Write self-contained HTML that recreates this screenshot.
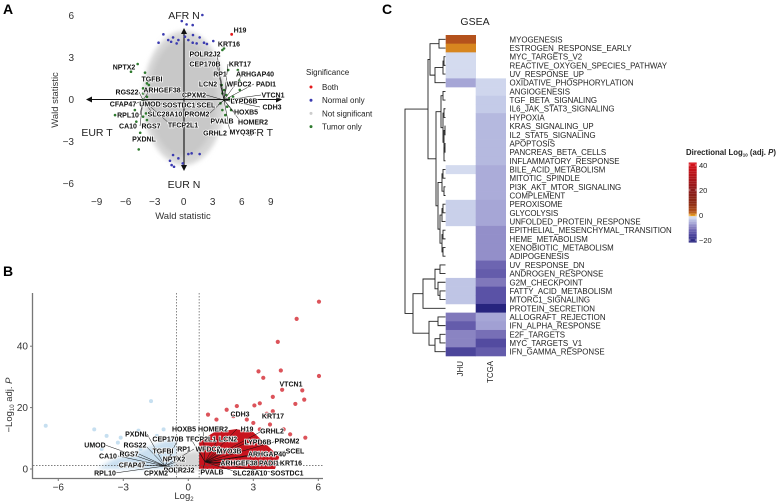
<!DOCTYPE html>
<html><head><meta charset="utf-8"><style>
html,body{margin:0;padding:0;background:#fff;}
svg{display:block;font-family:"Liberation Sans",sans-serif;}
</style></head><body>
<svg id="fig" width="781" height="501" viewBox="0 0 781 501" xmlns="http://www.w3.org/2000/svg">
<defs>
<filter id="blur1" x="-20%" y="-20%" width="140%" height="140%"><feGaussianBlur stdDeviation="2.5"/></filter>
<filter id="blur2" x="-20%" y="-20%" width="140%" height="140%"><feGaussianBlur stdDeviation="2"/></filter>
</defs>
<text x="3" y="14" font-size="14" font-weight="bold">A</text>
<text x="3" y="276" font-size="14" font-weight="bold">B</text>
<text x="382" y="14" font-size="14" font-weight="bold">C</text>
<g id="panelA"></g>
<g id="panelB"></g>
<g id="panelC"></g>
</svg>
<script>
// ---------- Panel A data ----------
const aTicks = [-9,-6,-3,0,3,6,9];
const aYTicks = [-6,-3,0,3,6];
const aNormalX = [1.93,-0.2,0.3,0.93,-2.1,-2.6,-1.3,-1.1,-0.55,0.13,0.96,1.65,2.1,3.06,0.93,1.34,2.4,0.48,-1.6,-0.73,-1.1,-1.42,-1.25,-1.0,0.48,0.82,1.65,-0.55,-0.1];
const aNormalY = [6.05,5.62,5.38,5.33,4.67,4.07,4.14,4.45,4.26,4.5,4.62,4.45,4.07,4.19,4.07,4.02,3.98,4.26,4.26,4.02,-3.95,-4.36,-4.67,-4.79,-3.88,-3.83,-3.88,-4.19,-4.55];
const aTumorX = [3.93,4.17,4.0,4.4,4.7,4.2,5.1,3.8,4.5,4.9,4.0,4.3,5.8,5.6,4.6,4.17,4.0,5.75,-4.76,-5.45,-4.0,-3.8,-4.2,-3.8,-4.2,-4.5,-5.05,-3.9,-4.2,-3.8,-4.9,-7.1,-4.5,-3.9,-4.65,-3.6,-4.2];
const aTumorY = [1.05,0.69,0.45,0.33,0.1,-0.02,0.21,-0.26,-0.5,-0.74,-0.74,-1.1,0.7,2.12,2.12,3.67,3.55,1.36,2.55,2.0,1.93,1.17,0.45,0.21,-0.02,-0.21,-0.74,-0.98,-1.21,-1.45,-1.57,-1.1,-2.36,-1.88,-3.55,1.05,0.81];
const aBothX = [4.96];
const aBothY = [4.67];

// ---------- Panel B data ----------
const bXTicks = [-6,-3,0,3,6];
const bYTicks = [0,20,40];
const bUpX = [6.03,5.0,4.13,4.27,3.24,3.46,6.03,5.26,4.33,3.9,5.35,4.94,2.24,3.05,3.3,3.9,0.91,3.62,5.4,1.77,1.3,2.08,2.7,3.0,3.77,4.4,4.7,3.3];
const bUpY = [54.5,48.9,41.4,32.1,31.8,29.7,30.3,25.6,25.8,23.5,22.6,21.2,20.5,20.7,21.4,18.8,17.7,18.0,10.2,19.3,16.1,17.2,16.1,15.0,14.5,12.9,11.3,12.9];
const bDownX = [-6.58,-4.34,-1.72,-3.77,-3.12,-2.3,-1.14,-1.45,-2.2,-4.0,-3.25,-1.05];
const bDownY = [14.1,12.9,22.1,10.8,10.2,12.5,12.9,10.8,6.5,6.5,8.6,9.8];

// ---------- Panel C data ----------
const pathways = ["MYOGENESIS","ESTROGEN_RESPONSE_EARLY","MYC_TARGETS_V2","REACTIVE_OXYGEN_SPECIES_PATHWAY","UV_RESPONSE_UP","OXIDATIVE_PHOSPHORYLATION","ANGIOGENESIS","TGF_BETA_SIGNALING","IL6_JAK_STAT3_SIGNALING","HYPOXIA","KRAS_SIGNALING_UP","IL2_STAT5_SIGNALING","APOPTOSIS","PANCREAS_BETA_CELLS","INFLAMMATORY_RESPONSE","BILE_ACID_METABOLISM","MITOTIC_SPINDLE","PI3K_AKT_MTOR_SIGNALING","COMPLEMENT","PEROXISOME","GLYCOLYSIS","UNFOLDED_PROTEIN_RESPONSE","EPITHELIAL_MESENCHYMAL_TRANSITION","HEME_METABOLISM","XENOBIOTIC_METABOLISM","ADIPOGENESIS","UV_RESPONSE_DN","ANDROGEN_RESPONSE","G2M_CHECKPOINT","FATTY_ACID_METABOLISM","MTORC1_SIGNALING","PROTEIN_SECRETION","ALLOGRAFT_REJECTION","IFN_ALPHA_RESPONSE","E2F_TARGETS","MYC_TARGETS_V1","IFN_GAMMA_RESPONSE"];
const cohorts = ["JHU","TCGA"];
const jhuVals = [3,1,-1.5,-1.5,-1.5,-6,null,null,null,null,null,null,null,null,null,-1.5,null,null,null,-2.5,-2.5,-2.5,null,null,null,null,null,null,-3.5,-3.5,-3.5,null,-10,-13,-9,-9,-16];
const tcgaVals = [null,null,null,null,null,-2,-2,-3,-3,-4.5,-4.5,-4.5,-4.5,-4.5,-4.5,-5.5,-5.5,-5.5,-5.5,-6,-6,-6,-8,-8,-8,-8,-12,-13,-10,-14,-14,-21,-6,-6.5,-11,-15,-13];
const legendTicks = [40,20,0,-20];

const NS="http://www.w3.org/2000/svg";
function mk(parent, tag, attrs, text){
  const e=document.createElementNS(NS,tag);
  for(const k in attrs) e.setAttribute(k,attrs[k]);
  if(text!==undefined) e.textContent=text;
  parent.appendChild(e); return e;
}

// ================= PANEL A =================
(function(){
  const g=document.getElementById('panelA');
  const xA=v=>183.7+v*9.67, yA=v=>99.7-v*14;
  const cloud=mk(g,'g',{});
  
  
  mk(cloud,'ellipse',{cx:184,cy:98,rx:41,ry:67,fill:'#d6d6d6',filter:'url(#blur1)'});
  mk(cloud,'ellipse',{cx:183,cy:98,rx:34,ry:58,fill:'#c8c8c8',filter:'url(#blur2)'});
  const ax=mk(g,'g',{stroke:'#111','stroke-width':1.1,fill:'#111'});
  
  
  mk(ax,'line',{x1:90,y1:99.5,x2:278,y2:99.5});
  mk(ax,'line',{x1:184,y1:32,x2:184,y2:167});
  mk(ax,'path',{d:'M86,99.5 l6,-3 v6z',stroke:'none'});
  mk(ax,'path',{d:'M282,99.5 l-6,-3 v6z',stroke:'none'});
  mk(ax,'path',{d:'M184,28 l-3,6 h6z',stroke:'none'});
  mk(ax,'path',{d:'M184,171 l-3,-6 h6z',stroke:'none'});
  const dl=[["AFR N",184,19,'middle'],["EUR N",184,188,'middle'],["EUR T",97,136,'middle'],["AFR T",258,136,'middle']];
  dl.forEach(d=>{const t=mk(g,'text',{x:d[1],y:d[2],'font-size':10.5,'text-anchor':d[3],fill:'#222'},d[0]);
    
    });
  aTicks.forEach(v=>{const t=mk(g,'text',{x:xA(v),y:205,'font-size':10,'text-anchor':'middle',fill:'#333'},v<0?'\u2212'+(-v):String(v));
    
    });
  aYTicks.forEach(v=>{const t=mk(g,'text',{x:74,y:yA(v)+3.5,'font-size':10,'text-anchor':'end',fill:'#333'},v<0?'\u2212'+(-v):String(v));
    
    });
  let t=mk(g,'text',{x:183,y:219,'font-size':9.5,'text-anchor':'middle',fill:'#333'},'Wald statistic');
  
  
  t=mk(g,'text',{x:0,y:0,'font-size':9.5,'text-anchor':'middle',fill:'#333',transform:'translate(58,100) rotate(-90)'},'Wald statistic');
  
  
  aNormalX.forEach((v,i)=>{const c=mk(g,'circle',{cx:xA(v),cy:yA(aNormalY[i]),r:1.3,fill:'#3b3bb0'});
    
    });
  aTumorX.forEach((v,i)=>{const c=mk(g,'circle',{cx:xA(v),cy:yA(aTumorY[i]),r:1.3,fill:'#2e7a2e'});
    
    });
  aBothX.forEach((v,i)=>{const c=mk(g,'circle',{cx:xA(v),cy:yA(aBothY[i]),r:1.4,fill:'#e41a1c'});
    
    });
  const labs=[["H19",240,30],["KRT16",229,44],["POLR2J2",205,54],["KRT17",240,64],["CEP170B",205,64],["ARHGAP40",255,74],["RP1",220,74],["NPTX2",124,67],["TGFBI",152,79],["LCN2",208,84],["WFDC2",239,84],["PADI1",266,84],["RGS22",127,92],["ARHGEF38",162,90],["CPXM2",194,95],["VTCN1",273,95],["CFAP47",123,104],["UMOD",150,104],["SOSTDC1",179,105],["SCEL",206,105],["LYPD6B",244,101],["CDH3",272,107],["RPL10",128,115],["SLC28A10",165,114],["PROM2",197,114],["HOXB5",246,112],["HOMER2",253,122],["CA10",128,126],["RGS7",151,126],["TFCP2L1",183,125],["PVALB",222,121],["GRHL2",215,133],["MYO3B",242,132],["PXDNL",144,139]];
  const lg=mk(g,'g',{stroke:'#111','stroke-width':0.5});
  
  
  labs.forEach(l=>{const tx=l[1], ty=l[2];
    const tgt = tx>185 ? [224,100] : [143,100];
    if(Math.abs(tx-tgt[0])>12 && !['H19','NPTX2','PXDNL','KRT16'].includes(l[0])) mk(lg,'line',{x1:tx+(tx<tgt[0]?12:-12),y1:ty,x2:tgt[0],y2:tgt[1]});
    const e=mk(g,'text',{x:tx,y:ty+2.5,'font-size':7,'font-weight':'bold','text-anchor':'middle',fill:'#111',stroke:'#fff','stroke-width':1.5,'paint-order':'stroke'},l[0]);
    
    });
  const leg=mk(g,'g',{});
  
  
  mk(leg,'text',{x:306,y:75,'font-size':8,fill:'#222'},'Significance');
  const le=[["Both",'#e41a1c'],["Normal only",'#3b3bb0'],["Not significant",'#cccccc'],["Tumor only",'#2e7a2e']];
  le.forEach((d,i)=>{const y=87+i*13.2;
    const c=mk(leg,'circle',{cx:311,cy:y,r:1.5,fill:d[1]});
    
    
    mk(leg,'text',{x:322,y:y+3,'font-size':8,fill:'#222'},d[0]);});
})();

// ================= PANEL B =================
(function(){
  const g=document.getElementById('panelB');
  const xB=v=>188.3+v*21.67, yB=v=>469-v*3.07;
  const dens=mk(g,'g',{});
  
  
  mk(dens,'path',{d:`M${xB(-4.2)},${yB(0)} L${xB(-3.5)},${yB(3)} L${xB(-2.2)},${yB(6)} L${xB(-1.2)},${yB(9)} L${xB(-0.6)},${yB(10)} L${xB(-0.5)},${yB(0)} Z`,fill:'#c9dff0',filter:'url(#blur2)'});
  mk(dens,'path',{d:`M${xB(-0.7)},${yB(0)} L${xB(-0.5)},${yB(5)} L${xB(0.5)},${yB(6)} L${xB(0.7)},${yB(0)} Z`,fill:'#d5d5d5',filter:'url(#blur2)'});
  mk(dens,'path',{d:`M${xB(0.5)},${yB(0)} L${xB(0.5)},${yB(9)} L${xB(1.2)},${yB(12)} L${xB(2.2)},${yB(13)} L${xB(3)},${yB(12)} L${xB(3.6)},${yB(8)} L${xB(4.2)},${yB(4)} L${xB(4)},${yB(0)} Z`,fill:'#c8141e'});
  bUpX.forEach((v,i)=>{const c=mk(g,'circle',{cx:xB(v),cy:yB(bUpY[i]),r:2.1,fill:'#d6353d',opacity:0.85});
    
    });
  bDownX.forEach((v,i)=>{const c=mk(g,'circle',{cx:xB(v),cy:yB(bDownY[i]),r:2,fill:'#c6dff0'});
    
    });
  const th=mk(g,'g',{stroke:'#555','stroke-width':0.7,'stroke-dasharray':'1.5,1.5'});
  
  
  mk(th,'line',{x1:xB(-0.55),y1:293,x2:xB(-0.55),y2:478});
  mk(th,'line',{x1:xB(0.5),y1:293,x2:xB(0.5),y2:478});
  mk(th,'line',{x1:33,y1:yB(1.1),x2:323,y2:yB(1.1)});
  let a=mk(g,'path',{d:'M32.5,293 V478.5 H323',fill:'none',stroke:'#777','stroke-width':1.3});
  
  
  bXTicks.forEach(v=>{mk(g,'line',{x1:xB(v),y1:478.5,x2:xB(v),y2:481,stroke:'#777'});
    const t=mk(g,'text',{x:xB(v),y:490.5,'font-size':10,'text-anchor':'middle',fill:'#333'},v<0?'\u2212'+(-v):String(v));
    
    });
  bYTicks.forEach(v=>{mk(g,'line',{x1:30,y1:yB(v),x2:32.5,y2:yB(v),stroke:'#777'});
    const t=mk(g,'text',{x:28,y:yB(v)+3.5,'font-size':10,'text-anchor':'end',fill:'#333'},String(v));
    
    });
  let t=mk(g,'text',{x:184,y:499,'font-size':9.5,fill:'#333','text-anchor':'middle'});
  t.appendChild(document.createTextNode('Log'));
  mk(t,'tspan',{'font-size':6,dy:2},'2');
  
  
  t=mk(g,'text',{x:0,y:0,'font-size':9.5,fill:'#333','text-anchor':'middle',transform:'translate(12,405) rotate(-90)'});
  t.appendChild(document.createTextNode('\u2212Log'));
  mk(t,'tspan',{'font-size':6,dy:2},'10');
  mk(t,'tspan',{dy:-2},' adj. ');
  mk(t,'tspan',{'font-style':'italic'},'P');
  
  
  const labs=[["VTCN1",291,384],["CDH3",240,414],["KRT17",273,416],["HOXB5",184,429],["HOMER2",213,429],["H19",247,429],["GRHL2",272,431],["PXDNL",137,434],["CEP170B",168,439],["TFCP2L1",201,439],["LCN2",228,439],["LYPD6B",258,442],["PROM2",287,441],["UMOD",95,445],["RGS22",135,445],["RP1",184,449],["WFDC2",208,449],["MYO3B",229,451],["SCEL",295,451],["TGFBI",163,451],["ARHGAP40",267,454],["CA10",108,456],["RGS7",129,454],["NPTX2",174,459],["CFAP47",132,465],["ARHGEF38",239,463],["PADI1",269,463],["KRT16",291,463],["POLR2J2",179,470],["PVALB",212,472],["RPL10",105,473],["CPXM2",156,473],["SLC28A10",250,473],["SOSTDC1",287,473]];
  const lg=mk(g,'g',{stroke:'#111','stroke-width':0.5});
  
  
  labs.forEach(l=>{
    if(l[1]>190 && l[2]>425) mk(lg,'line',{x1:l[1]-10,y1:l[2],x2:205,y2:462});
    else if(l[1]<185 && l[2]>430) mk(lg,'line',{x1:l[1]+10,y1:l[2],x2:165,y2:466});
    const e=mk(g,'text',{x:l[1],y:l[2]+2.5,'font-size':7,'font-weight':'bold','text-anchor':'middle',fill:'#111',stroke:'#fff','stroke-width':1.4,'paint-order':'stroke'},l[0]);
    
    });
})();

// ================= PANEL C =================
(function(){
  const g=document.getElementById('panelC');
  const top=35, rh=(356-35)/37, x0=445.7, cw=30;
  const rowY=i=>top+i*rh;
  const neg=[[0,[228,235,246]],[-3,[196,203,232]],[-6,[166,166,214]],[-10,[128,120,187]],[-14,[90,82,166]],[-22,[32,29,120]]];
  const pos=[[0,[232,160,32]],[3,[180,82,28]],[10,[140,42,20]],[20,[139,26,26]],[42,[214,16,26]]];
  function col(v){const s=v>=0?pos:neg;
    for(let i=0;i<s.length-1;i++){const a=s[i],b=s[i+1];
      const inr=v>=0?(v>=a[0]&&v<=b[0]):(v<=a[0]&&v>=b[0]);
      if(inr){const f=(v-a[0])/(b[0]-a[0]);return 'rgb('+a[1].map((c,k)=>Math.round(c+f*(b[1][k]-c))).join(',')+')';}}
    return 'rgb('+s[s.length-1][1].join(',')+')';}
  let t=mk(g,'text',{x:475,y:25,'font-size':10.5,'text-anchor':'middle',fill:'#222'},'GSEA');
  
  
  [jhuVals,tcgaVals].forEach((vals,ci)=>{vals.forEach((v,i)=>{if(v===null)return;
    const r=mk(g,'rect',{x:x0+ci*cw,y:rowY(i),width:cw+0.3,height:rh+0.3,fill:col(v)});
    
    });});
  pathways.forEach((p,i)=>{const e=mk(g,'text',{x:509.5,y:rowY(i)+rh/2+3,'font-size':7.9,fill:'#222'},p);
    
    });
  cohorts.forEach((c,ci)=>{const cx=x0+ci*cw+cw/2;
    const e=mk(g,'text',{x:0,y:0,'font-size':7.9,fill:'#222','text-anchor':'end',transform:`translate(${cx+2.5},361) rotate(-90)`},c);
    
    });
  const dg=mk(g,'g',{stroke:'#222','stroke-width':0.9,fill:'none'});
  
  
  const leafX=445.5;
  function draw(n){ if(typeof n==='number') return [leafX,rowY(n)+rh/2];
    const a=draw(n[0]), b=draw(n[1]), x=n[2];
    mk(dg,'path',{d:`M${a[0]},${a[1]} H${x} V${b[1]} H${b[0]}`});
    return [x,(a[1]+b[1])/2]; }
  const cA=[0,1,439];
  const cB=[[[2,3,444],4,443],5,435];
  const cTop1=[cA,cB,430];
  const m1=[[6,7,443],[[8,9,444],[[10,11,445],[[12,13,445],14,444],444],443],441];
  const m2=[[15,16,443],[17,18,444],442];
  const m3=[[[19,20,443],21,442],[[22,23,443],[24,25,443],442],440];
  const mid=[m1,[m2,m3,438],436];
  const topC=[cTop1,mid,428];
  const b1=[[[26,27,440],[28,[29,30,440],438],435],31,423];
  const b2=[[32,33,438],[[34,35,440],36,435],429];
  const botC=[b1,b2,413];
  draw([topC,botC,405]);
  const lgC=mk(g,'g',{});
  
  
  const tt=mk(lgC,'text',{x:686,y:155,'font-size':7.8,'font-weight':'bold',fill:'#222'});
  tt.appendChild(document.createTextNode('Directional Log'));
  mk(tt,'tspan',{'font-size':4.5,dy:1.5},'10');
  mk(tt,'tspan',{dy:-1.5},' (adj. ');
  mk(tt,'tspan',{'font-style':'italic'},'P');
  mk(tt,'tspan',{},')');
  const yL=v=>215-v*1.25;
  for(let k=0;k<64;k++){const v=42-k;
    mk(lgC,'rect',{x:688.7,y:yL(v),width:8,height:1.3,fill:col(v)});}
  legendTicks.forEach(v=>{mk(lgC,'line',{x1:688.7,x2:690.5,y1:yL(v),y2:yL(v),stroke:'#fff','stroke-width':0.6});
    mk(lgC,'line',{x1:694.9,x2:696.7,y1:yL(v),y2:yL(v),stroke:'#fff','stroke-width':0.6});
    const e=mk(lgC,'text',{x:699,y:yL(v)+3,'font-size':7.5,fill:'#222'},v<0?'\u2212'+(-v):String(v));
    
    });
})();
</script>
</body></html>
